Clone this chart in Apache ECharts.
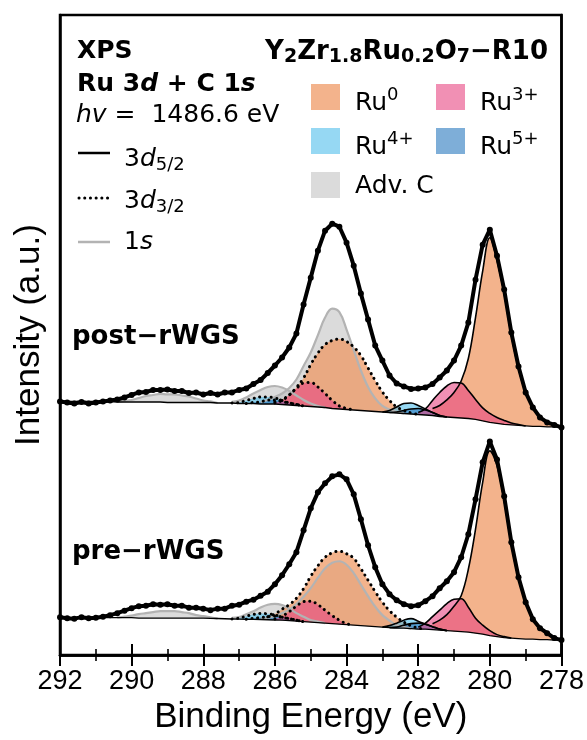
<!DOCTYPE html>
<html>
<head>
<meta charset="utf-8">
<script src="https://cdn.jsdelivr.net/npm/echarts@6/dist/echarts.min.js"></script>
<style>
  html, body { margin: 0; padding: 0; background: #fff; }
  #chart { width: 587px; height: 740px; }
</style>
</head>
<body>
<div id="chart"></div>
<script>
// binding energy grid (eV), high -> low
const eV = [
  292.0, 291.8, 291.6, 291.4, 291.2, 291.0, 290.8, 290.6, 290.4, 290.2,
  290.0, 289.8, 289.6, 289.4, 289.2, 289.0, 288.8, 288.6, 288.4, 288.2,
  288.0, 287.8, 287.6, 287.4, 287.2, 287.0, 286.8, 286.6, 286.4, 286.2,
  286.0, 285.8, 285.6, 285.4, 285.2, 285.0, 284.8, 284.6, 284.4, 284.2,
  284.0, 283.8, 283.6, 283.4, 283.2, 283.0, 282.8, 282.6, 282.4, 282.2,
  282.0, 281.8, 281.6, 281.4, 281.2, 281.0, 280.8, 280.6, 280.4, 280.2,
  280.0, 279.8, 279.6, 279.4, 279.2, 279.0, 278.8, 278.6, 278.4, 278.2,
  278.0
];
const xTicks = [292, 290, 288, 286, 284, 282, 280, 278];

// post-rWGS: measured counts and Shirley background (offset, a.u.)
const postData = [
  254, 253, 252, 253.5, 252, 253, 254, 255, 256, 258,
  260.5, 263, 263.5, 265.5, 265.5, 266, 264.5, 264.5, 262.5, 263,
  261, 262.5, 261, 263, 263, 265.5, 267, 271.5, 275.5, 282.5,
  290, 298, 308, 322, 351, 378, 405, 425, 432, 429,
  413, 390, 362, 336, 310, 295, 280, 272, 269, 266.5,
  267, 268, 271.5, 278, 285, 295, 310, 333, 376, 411,
  426, 400, 366, 323, 289, 263, 248, 238, 233, 230.5,
  228
];
const postBg = [
  254, 254, 254, 254, 254, 254, 254, 254, 253.5, 253.5,
  253.5, 253.5, 253.5, 253.5, 253.5, 253, 253, 253, 253, 253,
  253, 253, 252.5, 252.5, 252.5, 252, 252, 252, 251.5, 251.5,
  251.5, 251, 250.5, 250, 249.5, 249, 248.5, 248, 247, 246.5,
  246, 245.5, 245, 244.5, 244, 243.5, 243, 242.5, 242, 241.5,
  241, 240.5, 240, 239, 238.5, 238, 237.5, 237, 236, 234.5,
  233, 232, 231, 230.5, 230, 229.5, 229, 229, 228.5, 228.5,
  228
];
// fitted components (height above background), first value at the given energy
const postRu0a = [7, 11, 17, 25, 37, 60, 102, 150, 185, 163, 131, 90, 57, 33, 19, 9, 4, 2, 0];        // from 281.6
const postRu0b = [2, 5, 10, 18, 28, 42, 54, 63, 68, 70, 68, 63, 55, 43, 31, 20, 12, 6, 3, 1, 0];      // from 286.0
const postRu3a = [2, 6, 15, 24, 31, 35, 35, 28, 20, 13, 9, 6, 4, 2, 1, 0];                            // from 282.0
const postRu3b = [1, 4, 10, 17, 23, 24, 20, 14, 8, 3, 1, 0];                                           // from 286.0
const postRu4a = [0, 2, 6, 10, 11, 9, 6, 3, 1, 0];                                                     // from 283.0
const postRu4b = [0, 1, 3, 5, 7, 7, 6, 4, 2, 1, 0];                                                    // from 287.2
const postRu5a = [0, 1, 3, 5, 6, 5, 3, 1, 0];                                                          // from 282.8
const postRu5b = [0, 1, 2, 4, 4, 3, 2, 1, 0];                                                          // from 286.8
const postC1 = [2, 4, 7, 11, 17, 26, 40, 54, 72, 90, 100, 97, 80, 60, 40, 24, 13, 6, 3, 1, 0];        // from 286.4
const postC2 = [1, 3, 6, 10, 14, 17, 18, 17, 14, 10, 6, 3, 1, 0];                                      // from 287.2
const postC3 = [0, 1, 2, 4, 6, 7, 8, 8, 8, 7, 6, 4, 2, 1, 0];                                          // from 290.4

// pre-rWGS
const preData = [
  38, 37, 36.5, 38, 37, 37.5, 38.5, 40, 42, 44.5,
  47, 49, 49.5, 51, 50.5, 51, 49.5, 49.5, 47.5, 47.5,
  46.5, 45, 46.5, 46.5, 49.5, 50.5, 53.5, 55.5, 59.5, 63.5,
  71, 80, 91, 103, 125, 147, 163, 172, 179, 181,
  176, 161, 136, 110, 88, 71, 61, 55, 51, 49,
  50, 54, 59, 67, 74, 83, 98, 121, 156, 193,
  214, 196, 159, 113, 78, 53, 36, 27, 22, 17,
  15
];
const preBg = [
  37.5, 37.5, 37.5, 37.5, 37.5, 37.5, 37.5, 37.5, 37.5, 37.5,
  37.5, 37, 37, 37, 37, 37, 37, 37, 37, 37,
  37, 36.8, 36.6, 36.4, 36.2, 36, 35.9, 35.8, 35.6, 35.4,
  35.2, 35, 34.5, 34, 33.5, 33, 32.5, 32, 31.5, 31,
  30.5, 30, 29.5, 29, 28.5, 28, 27.5, 27, 27, 26.5,
  26, 26, 25.5, 25, 24.5, 24, 23.5, 23, 22, 21,
  19.5, 18.5, 17.5, 17, 16.5, 16, 16, 15.5, 15.5, 15,
  15
];
const preRu0a = [6, 10, 16, 25, 36, 63, 104, 152, 185, 171, 137, 94, 60, 37, 20, 11, 6, 2, 0];         // from 281.6
const preRu0b = [3, 6, 11, 16, 23, 33, 46, 57, 66, 71, 73, 71, 67, 57, 46, 35, 25, 17, 11, 6, 3, 1, 0]; // from 286.2
const preRu3a = [2, 6, 13, 20, 27, 32, 33, 25, 15, 9, 5, 2, 1, 0];                                     // from 282.0
const preRu3b = [1, 4, 9, 15, 20, 21, 18, 13, 8, 4, 1, 0];                                             // from 286.0
const preRu4a = [0, 2, 5, 8, 10, 8, 5, 3, 1, 0];                                                       // from 283.0
const preRu4b = [0, 1, 3, 5, 6, 6, 5, 3, 2, 1, 0];                                                     // from 287.2
const preRu5a = [0, 1, 3, 5, 6, 5, 3, 1, 0];                                                           // from 282.8
const preRu5b = [0, 1, 2, 3, 4, 3, 2, 1, 0];                                                           // from 286.8
const preC1 = [1, 2, 4, 7, 11, 17, 25, 34, 45, 55, 61, 63, 60, 52, 41, 30, 20, 12, 7, 3, 1, 0];        // from 286.4
const preC2 = [1, 2, 5, 8, 12, 15, 16, 15, 12, 8, 5, 2, 1, 0];                                         // from 287.2
const preC3 = [0, 1, 2, 4, 5, 6, 7, 7, 7, 6, 5, 3, 2, 1, 0];                                           // from 290.4

const fills = {
  'Ru0': 'rgba(238,150,95,0.72)',
  'Ru3+': 'rgba(232,70,130,0.6)',
  'Ru4+': 'rgba(80,190,235,0.6)',
  'Ru5+': 'rgba(40,120,190,0.6)',
  'Adv. C': 'rgba(190,190,190,0.55)'
};
const outline = {
  a: { color: '#000', width: 1.6 },                                 // 3d5/2
  b: { color: '#000', width: 3, type: [0.1, 5.6], cap: 'round' },   // 3d3/2
  c: { color: '#b3b3b3', width: 2.2 }                               // 1s
};

// component = invisible background series + stacked peak, so the fill starts on the background
function part(tag, name, from, h, bg, kind) {
  const i0 = eV.indexOf(from);
  const xs = eV.slice(i0, i0 + h.length);
  const base = bg.slice(i0, i0 + h.length);
  const key = tag + '-' + name + '-' + from;
  return [{
    type: 'line', stack: key, smooth: 0.4, symbol: 'none', silent: true,
    encode: { x: 1, y: 0 },
    lineStyle: { width: 0, opacity: 0 },
    data: xs.map((x, k) => [base[k], x])
  }, {
    type: 'line', name: name, stack: key, smooth: 0.4, symbol: 'none', silent: true,
    encode: { x: 1, y: 0 },
    lineStyle: outline[kind],
    areaStyle: { color: fills[name], opacity: 1 },
    data: xs.map((x, k) => [h[k], x])
  }];
}

function spectrum(tag, data, bg, p) {
  return [].concat(
    part(tag, 'Adv. C', 290.4, p.c3, bg, 'c'),
    part(tag, 'Adv. C', 287.2, p.c2, bg, 'c'),
    part(tag, 'Adv. C', 286.4, p.c1, bg, 'c'),
    part(tag, 'Ru0', p.ru0bFrom, p.ru0b, bg, 'b'),
    part(tag, 'Ru0', 281.6, p.ru0a, bg, 'a'),
    part(tag, 'Ru4+', 287.2, p.ru4b, bg, 'b'),
    part(tag, 'Ru5+', 286.8, p.ru5b, bg, 'b'),
    part(tag, 'Ru4+', 283.0, p.ru4a, bg, 'a'),
    part(tag, 'Ru5+', 282.8, p.ru5a, bg, 'a'),
    part(tag, 'Ru3+', 286.0, p.ru3b, bg, 'b'),
    part(tag, 'Ru3+', 282.0, p.ru3a, bg, 'a'),
    [{
      type: 'line', symbol: 'none', silent: true,
      lineStyle: { color: '#000', width: 1.4 },
      data: eV.map((x, k) => [x, bg[k]])
    }, {
      type: 'line', symbol: 'circle', symbolSize: 6, silent: true,
      lineStyle: { color: '#000', width: 4 },
      itemStyle: { color: '#000' },
      data: eV.map((x, k) => [x, data[k]])
    }]
  );
}

const series = [].concat(
  spectrum('post', postData, postBg, {
    c1: postC1, c2: postC2, c3: postC3, ru0a: postRu0a, ru0b: postRu0b, ru0bFrom: 286.0,
    ru3a: postRu3a, ru3b: postRu3b, ru4a: postRu4a, ru4b: postRu4b, ru5a: postRu5a, ru5b: postRu5b
  }),
  spectrum('pre', preData, preBg, {
    c1: preC1, c2: preC2, c3: preC3, ru0a: preRu0a, ru0b: preRu0b, ru0bFrom: 286.2,
    ru3a: preRu3a, ru3b: preRu3b, ru4a: preRu4a, ru4b: preRu4b, ru5a: preRu5a, ru5b: preRu5b
  })
);

const dv = '"DejaVu Sans", sans-serif';
const ls = '"Liberation Sans", Arial, sans-serif';

function txt(x, y, text, rich, extra) {
  return {
    type: 'text', x: x, y: y, z: 100, silent: true,
    style: Object.assign({
      text: text, rich: rich, fontFamily: dv, fontSize: 25, fill: '#000', verticalAlign: 'middle'
    }, extra || {})
  };
}
const boldRich = {
  b: { fontFamily: dv, fontSize: 25, fontWeight: 'bold', fill: '#000' },
  bi: { fontFamily: dv, fontSize: 25, fontWeight: 'bold', fontStyle: 'italic', fill: '#000' },
  t: { fontFamily: dv, fontSize: 26, fontWeight: 'bold', fill: '#000', lineHeight: 30 },
  ts: { fontFamily: dv, fontSize: 19, fontWeight: 'bold', fill: '#000', verticalAlign: 'bottom', lineHeight: 22 },
  p: { fontFamily: dv, fontSize: 26, fontWeight: 'bold', fill: '#000' }
};
const normRich = {
  n: { fontFamily: dv, fontSize: 25, fill: '#000', lineHeight: 30 },
  i: { fontFamily: dv, fontSize: 25, fontStyle: 'italic', fill: '#000', lineHeight: 30 },
  s: { fontFamily: dv, fontSize: 18, fill: '#000', verticalAlign: 'bottom', lineHeight: 20 }
};
const legRich = {
  m: { fontFamily: dv, fontSize: 25, fill: '#000', lineHeight: 34 },
  u: { fontFamily: dv, fontSize: 18, fill: '#000', verticalAlign: 'top', lineHeight: 19 }
};

const graphic = [
  txt(77, 51, '{b|XPS}', boldRich),
  txt(77, 84, '{b|Ru 3}{bi|d}{b| + C 1}{bi|s}', boldRich),
  txt(76, 115, '{i|hv}{n| =  1486.6 eV}', normRich),
  { type: 'line', z: 100, silent: true, shape: { x1: 78, y1: 153, x2: 110, y2: 153 }, style: { stroke: '#000', lineWidth: 2.5 } },
  txt(124, 159, '{n|3}{i|d}{s|5/2}', normRich),
  { type: 'line', z: 100, silent: true, shape: { x1: 79, y1: 198, x2: 108, y2: 198 }, style: { stroke: '#000', lineWidth: 3, lineDash: [0.1, 5.6], lineCap: 'round' } },
  txt(124, 201, '{n|3}{i|d}{s|3/2}', normRich),
  { type: 'line', z: 100, silent: true, shape: { x1: 78, y1: 242, x2: 110, y2: 242 }, style: { stroke: '#b3b3b3', lineWidth: 2.5 } },
  txt(124, 242, '{n|1}{i|s}', normRich),
  txt(548, 52, '{t|Y}{ts|2}{t|Zr}{ts|1.8}{t|Ru}{ts|0.2}{t|O}{ts|7}{t|−R10}', boldRich, { align: 'right' }),
  txt(72, 337, '{p|post−rWGS}', boldRich),
  txt(72, 552, '{p|pre−rWGS}', boldRich)
];

// legend swatches and labels
const legendItems = [
  ['Ru0', '{m|Ru}{u|0}', 311, 84],
  ['Ru3+', '{m|Ru}{u|3+}', 436, 84],
  ['Ru4+', '{m|Ru}{u|4+}', 311, 128],
  ['Ru5+', '{m|Ru}{u|5+}', 436, 128],
  ['Adv. C', '{m|Adv. C}', 311, 172]
];
legendItems.forEach(function (it) {
  graphic.push({ type: 'rect', z: 100, silent: true, shape: { x: it[2], y: it[3], width: 29, height: 26 }, style: { fill: fills[it[0]] } });
  const dy = it[0] === 'Adv. C' ? 14 : 19;
  graphic.push(txt(it[2] + 44, it[3] + dy, it[1], legRich));
});

const chart = echarts.init(document.getElementById('chart'), null, { renderer: 'canvas' });
chart.setOption({
  animation: false,
  backgroundColor: '#fff',
  textStyle: { fontFamily: ls },
  grid: { left: 60, right: 25, top: 15, bottom: 84, show: true, borderColor: '#000', borderWidth: 2.5, backgroundColor: 'transparent' },
  xAxis: [{
    type: 'value', min: 278, max: 292, interval: 2, inverse: true, position: 'bottom',
    name: 'Binding Energy (eV)', nameLocation: 'middle', nameGap: 44,
    nameTextStyle: { fontFamily: ls, fontSize: 35, color: '#000' },
    axisLine: { show: true, lineStyle: { color: '#000', width: 2.5 } },
    axisTick: { show: true, inside: true, length: 11, lineStyle: { color: '#000', width: 2 } },
    minorTick: { show: true, splitNumber: 2, length: 6, lineStyle: { color: '#000', width: 1.6 } },
    axisLabel: { margin: 13, fontFamily: ls, fontSize: 27, color: '#000', formatter: v => xTicks.indexOf(v) >= 0 ? String(v) : '' },
    splitLine: { show: false }
  }, {
    type: 'value', min: 278, max: 292, interval: 2, inverse: true, position: 'top',
    axisLine: { show: true, lineStyle: { color: '#000', width: 2.5 } },
    axisTick: { show: true, inside: true, length: 11, lineStyle: { color: '#000', width: 2 } },
    minorTick: { show: true, splitNumber: 2, length: 6, lineStyle: { color: '#000', width: 1.6 } },
    axisLabel: { show: false },
    splitLine: { show: false }
  }],
  yAxis: [{
    type: 'value', min: 0, max: 641,
    name: 'Intensity (a.u.)', nameLocation: 'middle', nameGap: 13,
    nameTextStyle: { fontFamily: ls, fontSize: 35, color: '#000' },
    axisLine: { show: true, lineStyle: { color: '#000', width: 2.5 } },
    axisTick: { show: false }, axisLabel: { show: false }, splitLine: { show: false }
  }, {
    type: 'value', min: 0, max: 641, position: 'right',
    axisLine: { show: true, lineStyle: { color: '#000', width: 2.5 } },
    axisTick: { show: false }, axisLabel: { show: false }, splitLine: { show: false }
  }],
  series: series,
  graphic: graphic
});
</script>
</body>
</html>
